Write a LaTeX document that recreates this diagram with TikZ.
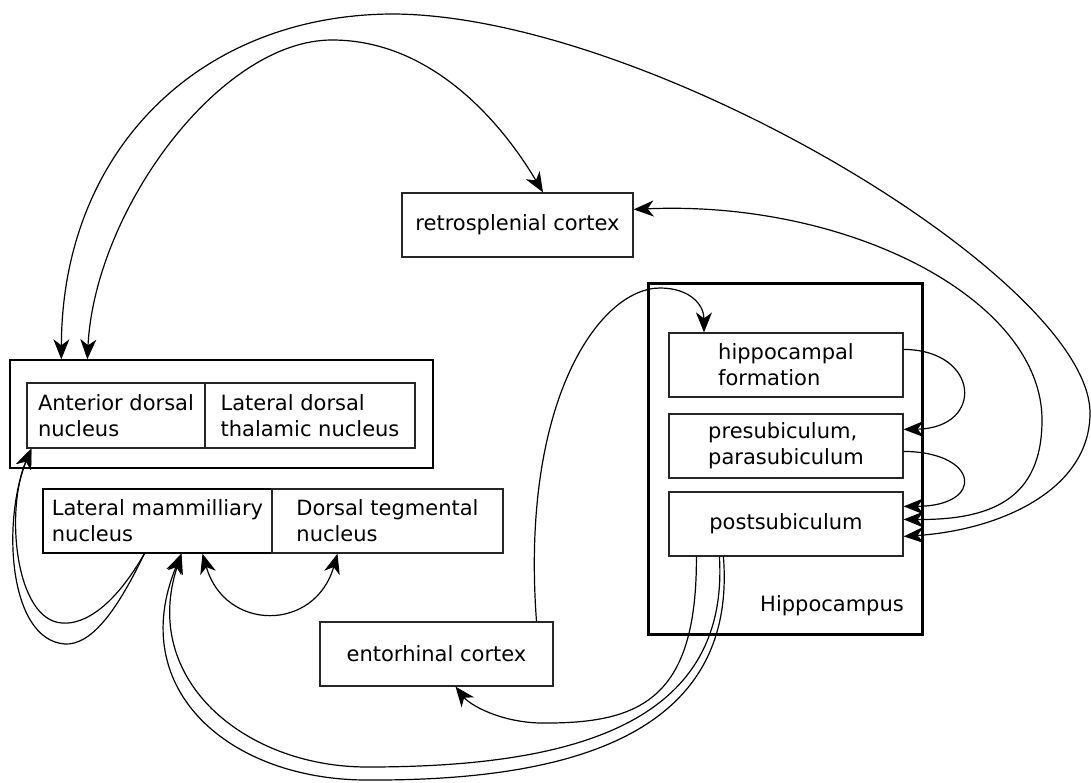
\documentclass[tikz,border=0pt]{standalone}
\usepackage{fontspec}
\setmainfont{DejaVu Sans}
\usetikzlibrary{arrows.meta}
\begin{document}
\begin{tikzpicture}[x=1pt,y=-1pt,
  every node/.style={font=\fontsize{21}{26}\selectfont},
  area/.style={draw=black!85, line width=1.2pt, inner sep=0pt, align=left},
  group/.style={draw=black, line width=1.4pt, inner sep=0pt},
  hippo/.style={draw=black, line width=3pt, inner sep=0pt},
  link/.style={line width=1.2pt, -{Stealth[length=20pt,width=16pt,inset=6pt]}},
  duplex/.style={line width=1.2pt, {Stealth[length=20pt,width=16pt,inset=6pt]}-{Stealth[length=20pt,width=16pt,inset=6pt]}}]
\useasboundingbox (0,0) rectangle (1091,782);

% thalamic group
\node[group, minimum width=423pt, minimum height=108pt] (adnout) at (221.5,414) {};
\node[area, minimum width=178pt, minimum height=65pt] (adn) at (116,415.5) {Anterior dorsal\\nucleus};
\node[area, minimum width=210pt, minimum height=65pt] (ldtn) at (310,415.5) {Lateral dorsal\\thalamic nucleus};

% mammillary / tegmental pair
\node[area, draw=black, minimum width=229pt, minimum height=64pt] (lmn) at (157.5,521) {Lateral mammilliary\\nucleus};
\node[area, minimum width=231pt, minimum height=64pt] (dtn) at (387.5,521) {Dorsal tegmental\\nucleus};

% cortices
\node[area, minimum width=231pt, minimum height=64pt] (rsc) at (517.5,225) {retrosplenial cortex};
\node[area, minimum width=233pt, minimum height=64pt] (ent) at (436.5,654) {entorhinal cortex};

% hippocampus
\node[hippo, minimum width=274pt, minimum height=351pt] (hipp) at (785,458.5) {};
\node (hipplabel) at (832,606) {Hippocampus};
\node[area, minimum width=234pt, minimum height=64pt] (hf) at (786,365) {hippocampal\\formation};
\node[area, minimum width=234pt, minimum height=64pt] (pre) at (786,446) {presubiculum,\\parasubiculum};
\node[area, minimum width=234pt, minimum height=64pt] (post) at (786,524) {postsubiculum};

% long loops over the top
\draw[duplex] ([xshift=52pt]adnout.north west)
  .. controls (62,150) and (200,14) .. (394,14)
  .. controls (650,16) and (1090,280) .. (1090,413)
  .. controls (1090,490) and (1000,530) .. ([yshift=-45pt]post.north east);
\draw[duplex] ([xshift=78pt]adnout.north west)
  .. controls (95,210) and (220,40) .. (332,40)
  .. controls (430,40) and (500,120) .. ([xshift=25.5pt]rsc.north);
\draw[duplex] ([yshift=-17pt]rsc.north east)
  .. controls (850,200) and (1042,300) .. (1042,420)
  .. controls (1042,500) and (990,520) .. ([yshift=-28pt]post.north east);

% within the hippocampus
\draw[link] ([yshift=-17pt]hf.north east) .. controls (980,350) and (985,428) .. ([yshift=-16pt]pre.north east);
\draw[link] ([yshift=-38pt]pre.north east) .. controls (980,452) and (985,506) .. ([yshift=-15pt]post.north east);

% entorhinal loop
\draw[link] ([xshift=100pt]ent.north)
  .. controls (520,400) and (600,288) .. (660,288)
  .. controls (690,288) and (704,305) .. ([xshift=-82pt]hf.north);
\draw[link] ([xshift=28pt]post.south west)
  .. controls (697,700) and (640,724) .. (540,723)
  .. controls (500,722) and (470,705) .. ([xshift=19pt]ent.south);

% postsubiculum to mammillary nucleus
\draw[link] ([xshift=51pt]post.south west)
  .. controls (730,730) and (560,767) .. (367,767)
  .. controls (245,767) and (140,680) .. ([xshift=24pt]lmn.south);
\draw[link] ([xshift=55pt]post.south west)
  .. controls (738,740) and (560,781) .. (367,780)
  .. controls (230,780) and (125,690) .. ([xshift=24pt]lmn.south);

% mammillary nucleus to anterior dorsal nucleus
\draw[link] ([xshift=102pt]lmn.south west)
  .. controls (115,605) and (85,625) .. (62,623)
  .. controls (15,620) and (5,510) .. ([xshift=5pt]adn.south west);
\draw[link] ([xshift=102pt]lmn.south west)
  .. controls (115,615) and (90,645) .. (65,644)
  .. controls (8,640) and (2,520) .. ([xshift=5pt]adn.south west);

% mammillary <-> tegmental
\draw[duplex] ([xshift=45pt]lmn.south) .. controls (225,632) and (315,632) .. ([xshift=-50pt]dtn.south);
\end{tikzpicture}
\end{document}
